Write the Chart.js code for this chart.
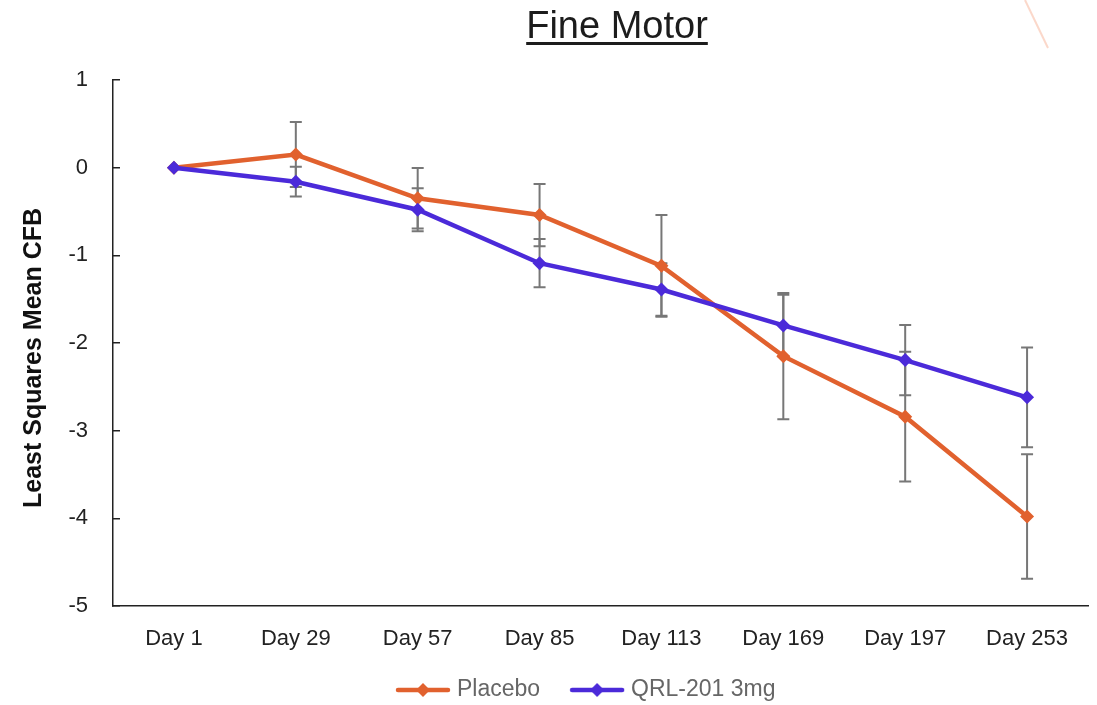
<!DOCTYPE html>
<html>
<head>
<meta charset="utf-8">
<script src="https://cdn.jsdelivr.net/npm/chart.js@4.4.1/dist/chart.umd.min.js"></script>
<style>
  html, body { margin: 0; padding: 0; background: #ffffff; }
  #wrap { width: 1097px; height: 705px; position: relative; }
</style>
</head>
<body>
<div id="wrap"><canvas id="chart"></canvas></div>
<script>
// Chart text
const chartTitle = 'Fine Motor';
const yAxisTitle = 'Least Squares Mean CFB';
const seriesNames = ['Placebo', 'QRL-201 3mg'];

// Visits on the x axis
const visits = ['Day 1', 'Day 29', 'Day 57', 'Day 85', 'Day 113', 'Day 169', 'Day 197', 'Day 253'];

// Least squares mean change from baseline and its error half-width per visit
const placeboMean = [0, 0.15, -0.35, -0.54, -1.12, -2.15, -2.84, -3.98];
const placeboErr  = [0, 0.37, 0.345, 0.355, 0.58, 0.72, 0.74, 0.71];
const qrlMean     = [0, -0.16, -0.48, -1.09, -1.39, -1.80, -2.195, -2.62];
const qrlErr      = [0, 0.17, 0.245, 0.275, 0.30, 0.35, 0.40, 0.57];

// Y axis range and step
const yMin = -5;
const yMax = 1;
const yStep = 1;

const FONT = '"Liberation Sans", Arial, Helvetica, sans-serif';
const ORANGE = '#E1612E';
const PURPLE = '#4B2AD9';

// Legend symbol: short line with a diamond in the middle
function legendSymbol(color) {
  const c = document.createElement('canvas');
  c.width = 56; c.height = 18;
  const g = c.getContext('2d');
  g.strokeStyle = color;
  g.lineWidth = 4.5;
  g.lineCap = 'round';
  g.beginPath(); g.moveTo(3, 9); g.lineTo(53, 9); g.stroke();
  g.fillStyle = color;
  g.beginPath();
  g.moveTo(28, 2); g.lineTo(35, 9); g.lineTo(28, 16); g.lineTo(21, 9); g.closePath();
  g.fill();
  return c;
}

// Vertical error bars with caps, drawn under the lines
const errorBarPlugin = {
  id: 'errorBars',
  beforeDatasetsDraw(chart) {
    const ctx = chart.ctx;
    const yScale = chart.scales.y;
    ctx.save();
    ctx.strokeStyle = '#777777';
    ctx.lineWidth = 2;
    chart.data.datasets.forEach((ds, i) => {
      const meta = chart.getDatasetMeta(i);
      if (meta.hidden) return;
      ds.errorBars.forEach((e, j) => {
        if (!e) return;
        const x = meta.data[j].x;
        const yTop = yScale.getPixelForValue(ds.data[j] + e);
        const yBot = yScale.getPixelForValue(ds.data[j] - e);
        const cap = 6;
        ctx.beginPath();
        ctx.moveTo(x, yTop); ctx.lineTo(x, yBot);
        ctx.moveTo(x - cap, yTop); ctx.lineTo(x + cap, yTop);
        ctx.moveTo(x - cap, yBot); ctx.lineTo(x + cap, yBot);
        ctx.stroke();
      });
    });
    ctx.restore();
  }
};

// Nudge the legend row a little to the left of the plot centre
const legendShiftPlugin = {
  id: 'legendShift',
  afterLayout(chart) {
    if (chart.legend) {
      chart.legend.left -= 12.5;
      chart.legend.right -= 12.5;
    }
  }
};

// Underlined title, rotated y-axis title and the small corner stroke
const decorPlugin = {
  id: 'decor',
  afterDraw(chart) {
    const ctx = chart.ctx;
    ctx.save();
    ctx.fillStyle = '#1c1c1c';
    ctx.font = '38px ' + FONT;
    ctx.textAlign = 'center';
    ctx.textBaseline = 'alphabetic';
    const tx = 617, ty = 38;
    ctx.fillText(chartTitle, tx, ty);
    const w = ctx.measureText(chartTitle).width;
    ctx.fillRect(tx - w / 2, 42, w, 3);

    ctx.translate(34, 358);
    ctx.rotate(-Math.PI / 2);
    ctx.font = 'bold 25px ' + FONT;
    ctx.fillStyle = '#111111';
    ctx.textBaseline = 'middle';
    ctx.fillText(yAxisTitle, 0, 0);
    ctx.restore();

    ctx.save();
    ctx.strokeStyle = 'rgba(250, 200, 180, 0.7)';
    ctx.lineWidth = 2;
    ctx.beginPath();
    ctx.moveTo(1025, 0); ctx.lineTo(1048, 48);
    ctx.stroke();
    ctx.restore();
  }
};

new Chart(document.getElementById('chart'), {
  type: 'line',
  data: {
    labels: visits,
    datasets: [
      {
        label: seriesNames[0],
        data: placeboMean,
        errorBars: placeboErr,
        borderColor: ORANGE,
        backgroundColor: ORANGE,
        borderWidth: 4.5,
        pointStyle: 'rectRot',
        pointRadius: 7,
        pointBorderWidth: 0,
        pointBackgroundColor: ORANGE,
        tension: 0,
        order: 2
      },
      {
        label: seriesNames[1],
        data: qrlMean,
        errorBars: qrlErr,
        borderColor: PURPLE,
        backgroundColor: PURPLE,
        borderWidth: 4.5,
        pointStyle: 'rectRot',
        pointRadius: 7,
        pointBorderWidth: 0,
        pointBackgroundColor: PURPLE,
        tension: 0,
        order: 1
      }
    ]
  },
  options: {
    responsive: true,
    maintainAspectRatio: false,
    animation: false,
    layout: { padding: { top: 80, right: 9, bottom: -6.5, left: 0 } },
    plugins: {
      title: { display: false },
      tooltip: { enabled: false },
      legend: {
        display: true,
        position: 'bottom',
        fullSize: false,
        labels: {
          usePointStyle: true,
          pointStyleWidth: 45,
          padding: 34.5,
          color: '#666666',
          font: { family: FONT, size: 23 },
          sort: (a, b) => a.datasetIndex - b.datasetIndex,
          generateLabels(chart) {
            return chart.data.datasets.map((ds, i) => ({
              text: ds.label,
              datasetIndex: i,
              pointStyle: legendSymbol(ds.borderColor),
              fillStyle: ds.borderColor,
              strokeStyle: ds.borderColor,
              lineWidth: 0,
              hidden: false,
              fontColor: '#666666'
            }));
          }
        }
      }
    },
    scales: {
      x: {
        type: 'category',
        offset: true,
        grid: { display: false, drawTicks: false },
        border: { display: true, color: '#222222', width: 1.5 },
        ticks: {
          color: '#222222',
          font: { family: FONT, size: 22 },
          mirror: true,
          padding: -46,
          maxRotation: 0,
          autoSkip: false
        },
        afterFit(scale) { scale.height = 38; }
      },
      y: {
        type: 'linear',
        min: yMin,
        max: yMax,
        grid: {
          display: true,
          drawOnChartArea: false,
          drawTicks: true,
          tickLength: -7,
          color: '#222222',
          lineWidth: 1.5
        },
        border: { display: true, color: '#222222', width: 1.5 },
        ticks: {
          stepSize: yStep,
          color: '#222222',
          font: { family: FONT, size: 22 },
          padding: 32
        },
        afterFit(scale) { scale.width = 113; }
      }
    }
  },
  plugins: [errorBarPlugin, legendShiftPlugin, decorPlugin]
});
</script>
</body>
</html>
